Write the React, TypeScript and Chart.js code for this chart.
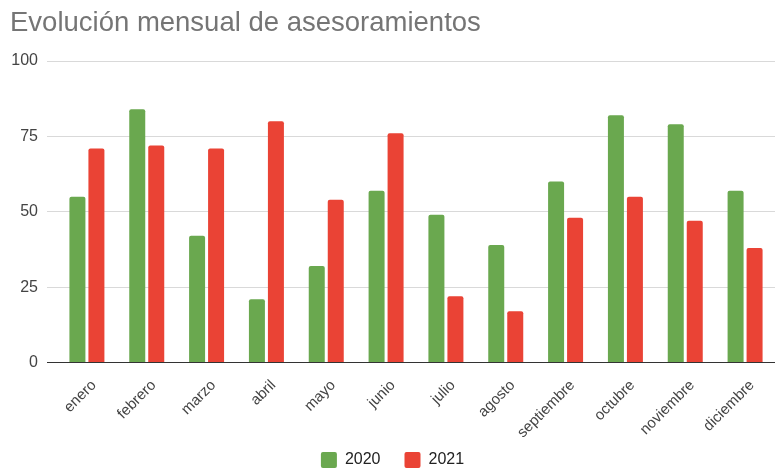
import React, { useEffect, useRef } from "react";
import { Chart, registerables } from "chart.js";

Chart.register(...registerables);

const months = [
  "enero", "febrero", "marzo", "abril", "mayo", "junio",
  "julio", "agosto", "septiembre", "octubre", "noviembre", "diciembre",
];
const values2020 = [55, 84, 42, 21, 32, 57, 49, 39, 60, 82, 79, 57];
const values2021 = [71, 72, 71, 80, 54, 76, 22, 17, 48, 55, 47, 38];
const yTicks = [0, 25, 50, 75, 100];
const titleText = "Evolución mensual de asesoramientos";
const FONT = "'Liberation Sans', Arial, sans-serif";

const extendLabelClip = {
  id: "extendLabelClip",
  afterLayout(chart: any) {
    const x = chart.scales.x;
    if (x) x.bottom = chart.height;
  },
};

export default function App() {
  const ref = useRef<HTMLCanvasElement | null>(null);
  useEffect(() => {
    document.body.style.margin = "0";
    const ctx = ref.current!;
    const chart = new Chart(ctx, {
      type: "bar",
      data: {
        labels: months,
        datasets: [
          {
            label: "2020",
            data: values2020,
            backgroundColor: "#6aa84f",
            borderRadius: 2,
            borderSkipped: "bottom",
            categoryPercentage: 0.635,
            barPercentage: 0.842,
          },
          {
            label: "2021",
            data: values2021,
            backgroundColor: "#ea4335",
            borderRadius: 2,
            borderSkipped: "bottom",
            categoryPercentage: 0.635,
            barPercentage: 0.842,
          },
        ],
      },
      plugins: [extendLabelClip],
      options: {
        animation: false,
        responsive: false,
        maintainAspectRatio: false,
        layout: { padding: { left: 10, right: 0, top: 0, bottom: -8 } },
        font: { family: FONT },
        plugins: {
          title: {
            display: true,
            text: titleText,
            align: "start",
            color: "#757575",
            font: { family: FONT, size: 27.5, weight: "normal" },
            padding: { top: 7.2, bottom: 20.8 },
          },
          legend: {
            position: "bottom",
            labels: {
              boxWidth: 16,
              boxHeight: 16,
              useBorderRadius: true,
              borderRadius: 2,
              color: "#222",
              font: { family: FONT, size: 16 },
              padding: 24,
            },
          },
          tooltip: { enabled: false },
        },
        scales: {
          x: {
            grid: { display: false },
            border: { display: false },
            afterFit: (s: any) => {
              s.height = 65.5;
            },
            ticks: {
              color: "#444",
              font: { family: FONT, size: 15 },
              minRotation: 45,
              maxRotation: 45,
              autoSkip: false,
              padding: 6,
              labelOffset: 7,
            },
          },
          y: {
            min: 0,
            max: 100,
            afterBuildTicks: (s: any) => {
              s.ticks = yTicks.map((v) => ({ value: v }));
            },
            afterFit: (s: any) => {
              s.width = 47;
            },
            border: { display: false },
            grid: {
              color: (c: any) => (c.tick && c.tick.value === 0 ? "#333" : "#d9d9d9"),
              tickColor: (c: any) => (c.tick && c.tick.value === 0 ? "#333" : "#d9d9d9"),
              tickLength: 10,
              lineWidth: 1,
            },
            ticks: {
              color: "#444",
              font: { family: FONT, size: 16 },
              padding: 9,
            },
          },
        },
      },
    });
    return () => chart.destroy();
  }, []);
  return (
    <div style={{ position: "relative", width: 775, height: 470 }}>
      <canvas ref={ref} width={775} height={470} style={{ width: 775, height: 470 }} />
    </div>
  );
}
